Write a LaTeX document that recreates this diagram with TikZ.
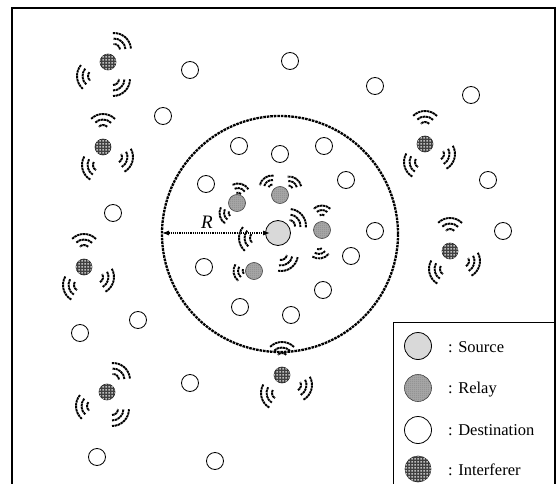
\documentclass[tikz,border=0pt]{standalone}
\usepackage{fontspec}
\setmainfont{Liberation Serif}
\usetikzlibrary{patterns,patterns.meta,arrows.meta}
\pgfdeclarepattern{name=fcheck,type=uncolored,bottom left={\pgfpointorigin},top right={\pgfpoint{3pt}{3pt}},tile size={\pgfpoint{3pt}{3pt}},code={\pgfpathrectangle{\pgfpoint{0.6pt}{0.6pt}}{\pgfpoint{1.8pt}{1.8pt}}\pgfusepath{fill}}}
\pgfdeclarepattern{name=fdots,type=uncolored,bottom left={\pgfpointorigin},top right={\pgfpoint{2pt}{2pt}},tile size={\pgfpoint{2pt}{2pt}},code={\pgfpathcircle{\pgfpoint{1pt}{1pt}}{0.55pt}\pgfusepath{fill}}}
\newcommand\wv[3]{\foreach \r in {6,11.5,17}{\draw[wave] ({#1},{-(#2)}) ++({#3-45}:\r) arc[start angle={#3-45},end angle={#3+45},radius=\r];}}
\newcommand\wvs[3]{\foreach \r in {3.5,8,12.5}{\draw[wave] ({#1},{-(#2)}) ++({#3-42}:\r) arc[start angle={#3-42},end angle={#3+42},radius=\r];}}
\newcommand\tone[2]{\wv{#1+6}{#2-12}{50}\wv{#1-14}{#2+14}{185}\wv{#1+5}{#2+17}{-45}}
\newcommand\ttwo[2]{\wv{#1}{#2-16}{90}\wv{#1-4}{#2+18}{195}\wv{#1+13}{#2+10}{-15}}
\begin{document}
\begin{tikzpicture}[x=1pt,y=1pt,
  dest/.style={circle,draw,line width=0.8pt,minimum size=17pt,inner sep=0pt,fill=white},
  src/.style={circle,draw,line width=0.8pt,minimum size=25pt,inner sep=0pt,fill=gray!30},
  relay/.style={circle,draw=black!75,line width=0.6pt,minimum size=17pt,inner sep=0pt,fill=gray!70,postaction={pattern=fdots,pattern color=black!55}},
  intf/.style={circle,draw=black!85,line width=0.6pt,minimum size=16pt,inner sep=0pt,fill=black!75,postaction={pattern=fcheck,pattern color=gray!50}},
  wave/.style={line width=1.9pt,dash pattern=on 2.4pt off 0.6pt},
  legtext/.style={anchor=base west,inner sep=0pt,font=\fontsize{16.5}{19}\selectfont}]
\useasboundingbox (0,0) rectangle (557,-484);
% frame
\draw[line width=1.1pt] (12,-484) -- (12,-8) -- (555,-8) -- (555,-484);
% big dashed circle
\draw[line width=2.3pt,dash pattern=on 2.6pt off 0.9pt] (280,-234) circle[radius=118];
% destinations
\foreach \x/\y [count=\i] in {190/70,290/61,375/86,471/95,163/116,239/146,280/154,324/146,206/184,346/180,488/180,113/213,375/231,503/231,204/267,351/256,240/307,291/315,323/290,80/333,138/320,190/383,97/457,215/461}
  \node[dest] (d\i) at (\x,-\y) {};
% source
\node[src] (s) at (278,-233) {};
% relays
\node[relay] (r1) at (237,-203) {};
\node[relay] (r2) at (280,-195) {};
\node[relay] (r3) at (322,-230) {};
\node[relay] (r4) at (254,-271) {};
% interferers
\foreach \x/\y [count=\i] in {108/62,103/147,425/144,84/267,450/251,107/392,282/375}
  \node[intf] (i\i) at (\x,-\y) {};
% interferer waves
\tone{108}{62}
\ttwo{103}{147}
\ttwo{425}{144}
\ttwo{84}{267}
\ttwo{450}{251}
\tone{107}{392}
\ttwo{282}{375}
% source waves
\wv{256}{238}{185}
\wv{289}{226}{40}
\wv{281}{254}{-55}
% relay waves
\wvs{238}{196}{75}
\wvs{232}{213}{195}
\wvs{272}{188}{125}
\wvs{289}{189}{55}
\wvs{322}{218}{90}
\wvs{319}{246}{-80}
\wvs{246}{271}{190}
% radius arrow
\coordinate (Rl) at (162,-233);
\draw[line width=1.1pt,dash pattern=on 1.2pt off 1pt,{Latex[length=7pt,width=5pt]}-{Latex[length=7pt,width=5pt]},shorten >=8pt] (Rl) -- (s.center);
\node[font=\fontsize{19}{22}\selectfont\itshape] (R) at (207,-222) {R};
% legend
\draw[line width=1pt] (393,-484) -- (393,-322) -- (555,-322);
\node[src,minimum size=27pt] (ls) at (418,-346) {};
\node[relay,minimum size=27pt] (lr) at (418,-388) {};
\node[dest,minimum size=27pt] (ld) at (418,-430) {};
\node[intf,minimum size=26pt] (li) at (418,-469) {};
\node[legtext] (ts) at (448,-352) {: Source};
\node[legtext] (tr) at (448,-393) {: Relay};
\node[legtext] (td) at (448,-435) {: Destination};
\node[legtext] (ti) at (448,-475) {: Interferer};
\end{tikzpicture}
\end{document}
